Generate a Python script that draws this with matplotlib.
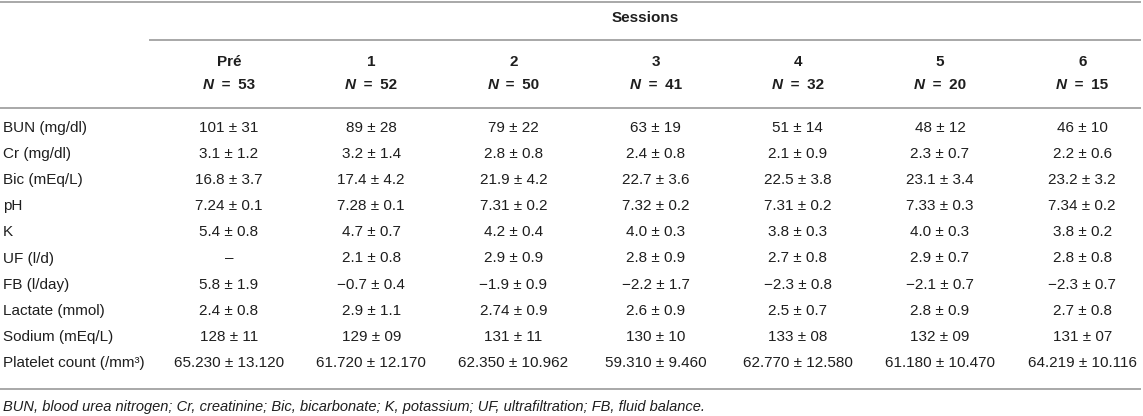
import matplotlib
matplotlib.use("Agg")
import matplotlib.pyplot as plt

# Table of lab values per dialysis session (mean ± SD).
sessions = ["Pré", "1", "2", "3", "4", "5", "6"]
n_patients = [53, 52, 50, 41, 32, 20, 15]

row_labels = ["BUN (mg/dl)", "Cr (mg/dl)", "Bic (mEq/L)", "pH", "K", "UF (l/d)",
              "FB (l/day)", "Lactate (mmol)", "Sodium (mEq/L)", "Platelet count (/mm³)"]

bun = ["101 ± 31", "89 ± 28", "79 ± 22", "63 ± 19", "51 ± 14", "48 ± 12", "46 ± 10"]
cr = ["3.1 ± 1.2", "3.2 ± 1.4", "2.8 ± 0.8", "2.4 ± 0.8", "2.1 ± 0.9", "2.3 ± 0.7", "2.2 ± 0.6"]
bic = ["16.8 ± 3.7", "17.4 ± 4.2", "21.9 ± 4.2", "22.7 ± 3.6", "22.5 ± 3.8", "23.1 ± 3.4", "23.2 ± 3.2"]
ph = ["7.24 ± 0.1", "7.28 ± 0.1", "7.31 ± 0.2", "7.32 ± 0.2", "7.31 ± 0.2", "7.33 ± 0.3", "7.34 ± 0.2"]
k = ["5.4 ± 0.8", "4.7 ± 0.7", "4.2 ± 0.4", "4.0 ± 0.3", "3.8 ± 0.3", "4.0 ± 0.3", "3.8 ± 0.2"]
uf = ["–", "2.1 ± 0.8", "2.9 ± 0.9", "2.8 ± 0.9", "2.7 ± 0.8", "2.9 ± 0.7", "2.8 ± 0.8"]
fb = ["5.8 ± 1.9", "−0.7 ± 0.4", "−1.9 ± 0.9", "−2.2 ± 1.7", "−2.3 ± 0.8", "−2.1 ± 0.7", "−2.3 ± 0.7"]
lactate = ["2.4 ± 0.8", "2.9 ± 1.1", "2.74 ± 0.9", "2.6 ± 0.9", "2.5 ± 0.7", "2.8 ± 0.9", "2.7 ± 0.8"]
sodium = ["128 ± 11", "129 ± 09", "131 ± 11", "130 ± 10", "133 ± 08", "132 ± 09", "131 ± 07"]
platelets = ["65.230 ± 13.120", "61.720 ± 12.170", "62.350 ± 10.962", "59.310 ± 9.460",
             "62.770 ± 12.580", "61.180 ± 10.470", "64.219 ± 10.116"]

footnote = ("BUN, blood urea nitrogen; Cr, creatinine; Bic, bicarbonate; K, potassium; "
            "UF, ultrafiltration; FB, fluid balance.")

rows = [bun, cr, bic, ph, k, uf, fb, lactate, sodium, platelets]

plt.rcParams["font.family"] = ["Liberation Sans", "DejaVu Sans"]
txt = "#1e1e1e"
rule = "#a8a8a8"
fs = 11

W, H = 1143, 416
fig = plt.figure(figsize=(W / 100, H / 100), dpi=100)
ax = fig.add_axes([0, 0, 1, 1])
ax.set_xlim(0, W)
ax.set_ylim(H, 0)
ax.axis("off")

# layout (pixels)
first_col, col_w = 229, 142.2
centers = [first_col + col_w * i for i in range(len(sessions))]
rule_end = 1140
sess_start = 150
row0, row_step = 128, 26.1

# rules
ax.plot([0, rule_end], [2, 2], color=rule, lw=1.4)
ax.plot([sess_start, rule_end], [40, 40], color=rule, lw=1.4)
ax.plot([0, rule_end], [108, 108], color=rule, lw=1.4)
ax.plot([0, rule_end], [389, 389], color=rule, lw=1.4)

ax.text((sess_start + rule_end) / 2, 18, "Sessions", ha="center", va="center",
        fontsize=fs, fontweight="bold", color=txt)

fig.canvas.draw()
renderer = fig.canvas.get_renderer()
for cx, s, n in zip(centers, sessions, n_patients):
    ax.text(cx, 62, s, ha="center", va="center", fontsize=fs, fontweight="bold", color=txt)
    # "N" bold italic followed by " = n" bold, centred together
    t1 = ax.text(0, 85, "N", ha="left", va="center", fontsize=fs,
                 fontweight="bold", fontstyle="italic", color=txt)
    t2 = ax.text(0, 85, f"\u2002=\u2002{n}", ha="left", va="center", fontsize=fs,
                 fontweight="bold", color=txt)
    w1 = t1.get_window_extent(renderer).width
    w2 = t2.get_window_extent(renderer).width
    x0 = cx - (w1 + w2) / 2
    t1.set_x(x0)
    t2.set_x(x0 + w1)

for i, (lab, vals) in enumerate(zip(row_labels, rows)):
    y = row0 + i * row_step
    ax.text(3, y, lab, ha="left", va="center", fontsize=fs, color=txt)
    for cx, v in zip(centers, vals):
        ax.text(cx, y, v, ha="center", va="center", fontsize=fs, color=txt)

ax.text(3, 407, footnote, ha="left", va="center", fontsize=10.5,
        fontstyle="italic", color=txt)

fig.savefig("out.png", dpi=100)
